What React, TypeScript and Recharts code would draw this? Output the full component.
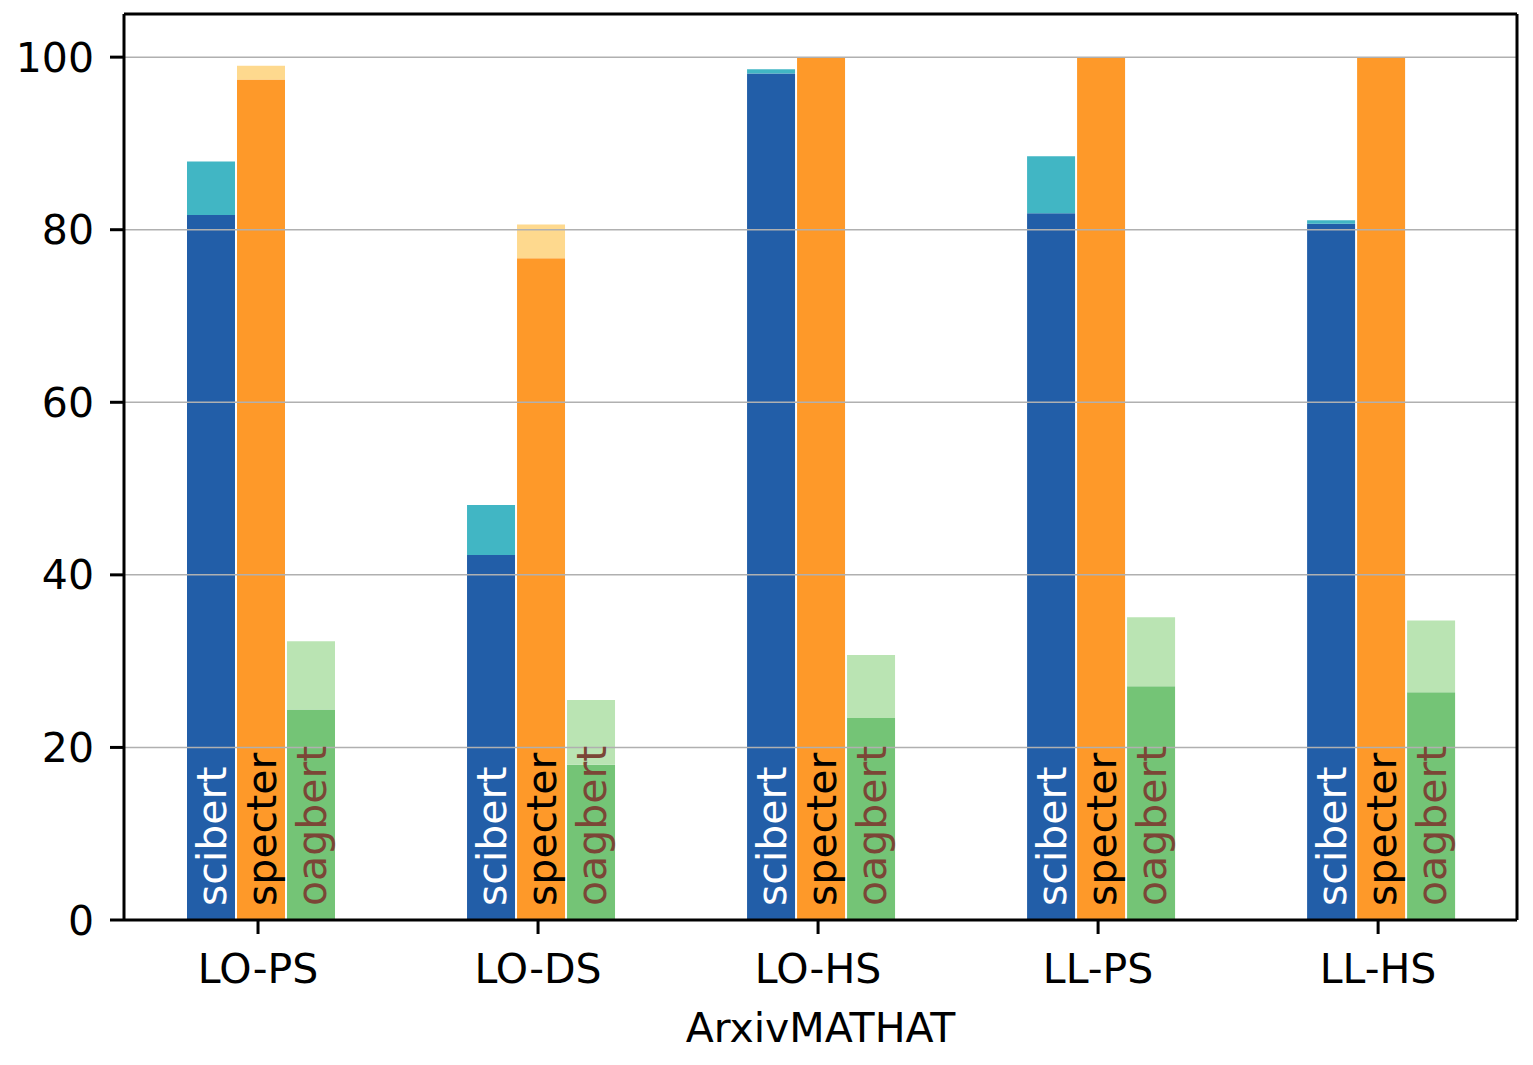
import React from 'react';
import { BarChart, Bar, XAxis, YAxis, ReferenceLine, LabelList, Rectangle } from 'recharts';

// values (percent)
const categories = ['LO-PS', 'LO-DS', 'LO-HS', 'LL-PS', 'LL-HS'];
const scibertBase = [81.7, 42.3, 98.1, 81.9, 80.7];
const scibertTotal = [87.9, 48.1, 98.6, 88.5, 81.1];
const specterBase = [97.4, 76.7, 100, 100, 100];
const specterTotal = [99.0, 80.6, 100, 100, 100];
const oagbertBase = [24.4, 18.0, 23.4, 27.1, 26.4];
const oagbertTotal = [32.3, 25.5, 30.7, 35.1, 34.7];
const yTicks = [0, 20, 40, 60, 80, 100];
const gridTicks = [20, 40, 60, 80, 100];
const xLabel = 'ArxivMATHAT';

const data = categories.map((name, i) => ({
  idx: i,
  name,
  scibertBase: scibertBase[i],
  scibertExtra: +(scibertTotal[i] - scibertBase[i]).toFixed(2),
  specterBase: specterBase[i],
  specterExtra: +(specterTotal[i] - specterBase[i]).toFixed(2),
  oagbertBase: oagbertBase[i],
  oagbertExtra: +(oagbertTotal[i] - oagbertBase[i]).toFixed(2),
}));

const models = [
  { key: 'scibert', base: '#225ea8', extra: '#41b6c4', text: '#ffffff' },
  { key: 'specter', base: '#fe9929', extra: '#fed98e', text: '#000000' },
  { key: 'oagbert', base: '#74c476', extra: '#bae4b3', text: '#7b4636' },
];

const FONT = 'DejaVu Sans';
const xDomain: [number, number] = [-0.4786, 4.496];
const yMax = 105;
const axisStyle = { stroke: '#000', strokeWidth: 3 };
// bars in the original sit a few px right of the tick
const SHIFT = 3;

const ShiftedBar = (props: any) => <Rectangle {...props} x={Number(props.x) + SHIFT} />;

const makeLabel = (text: string, color: string) => (props: any) => {
  const { x, y, width, height } = props;
  const cx = Number(x) + SHIFT + Number(width) / 2 + 15;
  const yb = Number(y) + Number(height) - 14;
  return (
    <text
      transform={`translate(${cx},${yb}) rotate(-90)`}
      fill={color}
      fontSize={41}
      fontFamily={FONT}
      textAnchor="start"
    >
      {text}
    </text>
  );
};

export default function App() {
  return (
    <div style={{ position: 'absolute', left: 0, top: 0, fontFamily: FONT, background: '#fff' }}>
      <BarChart
        width={1533}
        height={1065}
        data={data}
        barSize={48}
        barGap={2}
        margin={{ top: 14, right: 16, left: 0, bottom: 0 }}
      >
        <XAxis
          dataKey="idx"
          type="number"
          domain={xDomain}
          allowDataOverflow
          ticks={[0, 1, 2, 3, 4]}
          interval={0}
          tickFormatter={(v: number) => categories[v]}
          height={145}
          tickSize={14}
          tickMargin={20}
          axisLine={axisStyle}
          tickLine={axisStyle}
          tick={{ fontSize: 41, fill: '#000', fontFamily: FONT }}
          label={{ value: xLabel, position: 'insideBottom', offset: 23, fontSize: 41, fill: '#000', fontFamily: FONT }}
        />
        <YAxis
          domain={[0, yMax]}
          ticks={yTicks}
          width={124}
          tickSize={14}
          tickMargin={16}
          axisLine={axisStyle}
          tickLine={axisStyle}
          tick={{ fontSize: 41, fill: '#000', fontFamily: FONT }}
        />
        {models.flatMap((m) => [
          <Bar
            key={`${m.key}-base`}
            dataKey={`${m.key}Base`}
            stackId={m.key}
            fill={m.base}
            shape={ShiftedBar}
            isAnimationActive={false}
          >
            <LabelList dataKey={`${m.key}Base`} content={makeLabel(m.key, m.text)} />
          </Bar>,
          <Bar
            key={`${m.key}-extra`}
            dataKey={`${m.key}Extra`}
            stackId={m.key}
            fill={m.extra}
            shape={ShiftedBar}
            isAnimationActive={false}
          />,
        ])}
        {gridTicks.map((v) => (
          <ReferenceLine key={v} y={v} stroke="#b0b0b0" strokeWidth={1.5} />
        ))}
        <ReferenceLine y={yMax} stroke="#000" strokeWidth={3} />
        <ReferenceLine x={xDomain[1]} stroke="#000" strokeWidth={3} />
      </BarChart>
    </div>
  );
}
